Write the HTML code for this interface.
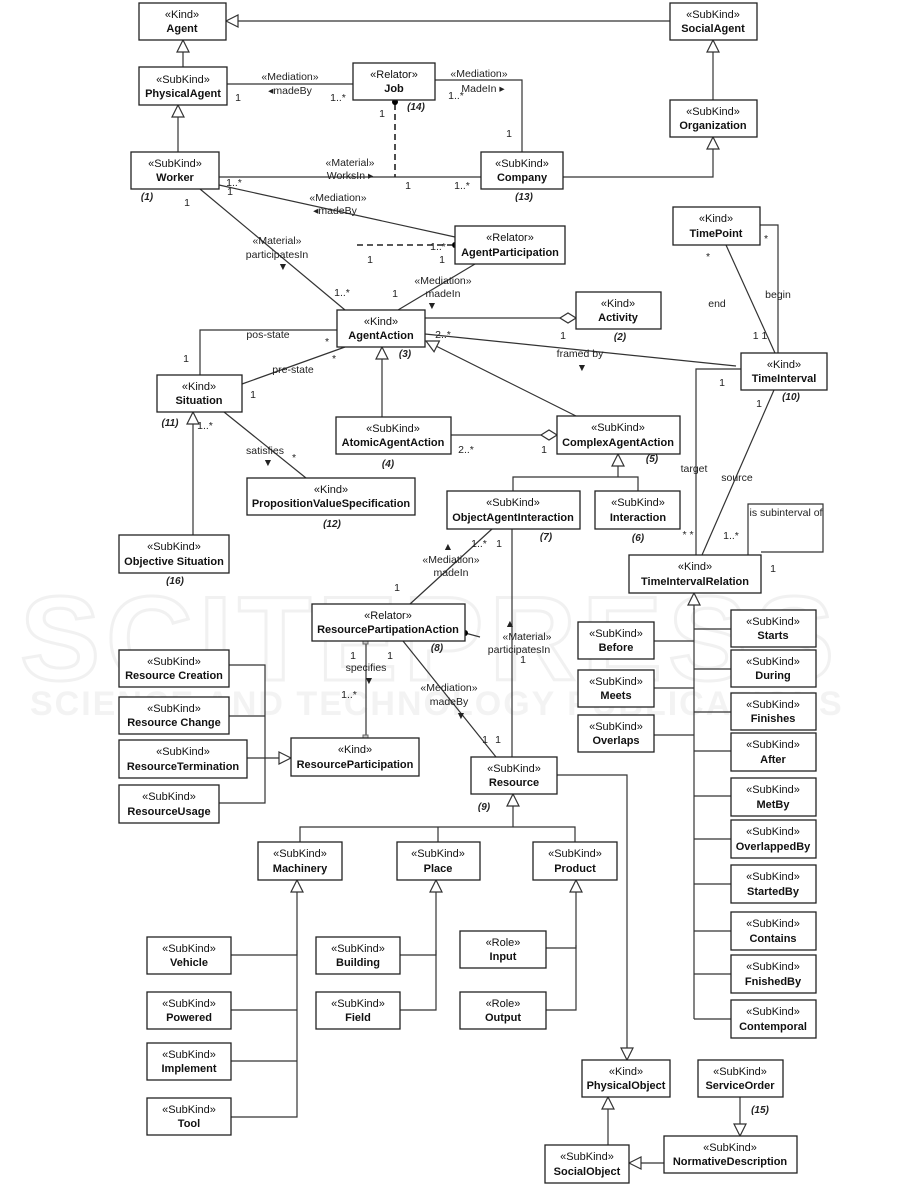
<!DOCTYPE html>
<html><head><meta charset="utf-8"><style>
html,body{margin:0;padding:0;background:#fff;}
svg{display:block;font-family:"Liberation Sans",Arial,sans-serif;}
.b{fill:#fff;stroke:#222;stroke-width:1.3}
.l{fill:none;stroke:#333;stroke-width:1.2}
.d{fill:none;stroke:#222;stroke-width:1.6;stroke-dasharray:6,4}
.s{font-size:11px;text-anchor:middle;fill:#111}
.n{font-size:11px;font-weight:bold;text-anchor:middle;fill:#111}
.t{font-size:10.5px;fill:#222;text-anchor:middle}
.i{font-size:10px;font-style:italic;font-weight:bold;fill:#222;text-anchor:middle}
.wm{font-size:120px;font-weight:bold;fill:none;stroke:#f1f1f1;stroke-width:3;letter-spacing:6px}
.wm2{font-size:34px;font-weight:bold;fill:#f3f3f3;letter-spacing:2px}
</style></head><body>
<svg width="901" height="1203" viewBox="0 0 901 1203" xmlns="http://www.w3.org/2000/svg">
<defs>
<marker id="g" viewBox="0 0 14 14" refX="13" refY="7" markerWidth="14" markerHeight="14" markerUnits="userSpaceOnUse" orient="auto">
<path d="M1,1 L13,7 L1,13 Z" fill="#fff" stroke="#333" stroke-width="1.2"/></marker>
<marker id="dm" viewBox="0 0 18 12" refX="17" refY="6" markerWidth="18" markerHeight="12" markerUnits="userSpaceOnUse" orient="auto">
<path d="M1,6 L9,1 L17,6 L9,11 Z" fill="#fff" stroke="#333" stroke-width="1.2"/></marker>
</defs>
<!-- watermark -->
<text x="20" y="680" class="wm">SCITEPRESS</text>
<text x="30" y="715" class="wm2">SCIENCE AND TECHNOLOGY PUBLICATIONS</text>

<!-- connectors -->
<g class="l">
<line x1="670" y1="21" x2="226" y2="21" marker-end="url(#g)"/>
<line x1="183" y1="67" x2="183" y2="40" marker-end="url(#g)"/>
<line x1="178" y1="152" x2="178" y2="105" marker-end="url(#g)"/>
<line x1="713" y1="100" x2="713" y2="40" marker-end="url(#g)"/>
<polyline points="563,177 713,177 713,137" marker-end="url(#g)"/>
<line x1="227" y1="84" x2="353" y2="84"/>
<polyline points="435,80 522,80 522,152"/>
<line x1="219" y1="177" x2="481" y2="177"/>
<line x1="219" y1="185" x2="455" y2="237"/>
<line x1="200" y1="189" x2="345" y2="310"/>
<line x1="475" y1="264" x2="398" y2="310"/>
<line x1="425" y1="318" x2="576" y2="318" marker-end="url(#dm)"/>
<line x1="425" y1="334" x2="736" y2="366"/>
<polyline points="200,375 200,330 337,330"/>
<line x1="242" y1="384" x2="345" y2="347"/>
<line x1="382" y1="417" x2="382" y2="347" marker-end="url(#g)"/>
<line x1="576" y1="416" x2="426" y2="341" marker-end="url(#g)"/>
<line x1="451" y1="435" x2="557" y2="435" marker-end="url(#dm)"/>
<polyline points="513,491 513,477 638,477 638,491"/>
<line x1="618" y1="477" x2="618" y2="454" marker-end="url(#g)"/>
<line x1="224" y1="412" x2="306" y2="478"/>
<line x1="193" y1="535" x2="193" y2="412" marker-end="url(#g)"/>
<line x1="492" y1="529" x2="410" y2="604"/>
<line x1="512" y1="529" x2="512" y2="757"/>
<line x1="465" y1="633" x2="480" y2="637"/>
<line x1="366" y1="641" x2="366" y2="738"/>
<line x1="403" y1="641" x2="496" y2="757"/>
<polyline points="229,665 265,665 265,803 219,803"/>
<line x1="229" y1="716" x2="265" y2="716"/>
<line x1="247" y1="758" x2="291" y2="758" marker-end="url(#g)"/>
<polyline points="300,842 300,827 575,827 575,842"/>
<line x1="438" y1="827" x2="438" y2="842"/>
<line x1="513" y1="827" x2="513" y2="794" marker-end="url(#g)"/>
<polyline points="557,775 627,775 627,1060" marker-end="url(#g)"/>
<polyline points="231,955 297,955 297,880" marker-end="url(#g)"/>
<line x1="231" y1="1010" x2="297" y2="1010"/>
<line x1="231" y1="1061" x2="297" y2="1061"/>
<polyline points="231,1117 297,1117 297,950"/>
<polyline points="400,955 436,955 436,880" marker-end="url(#g)"/>
<polyline points="400,1010 436,1010 436,950"/>
<polyline points="546,948 576,948 576,880" marker-end="url(#g)"/>
<polyline points="546,1010 576,1010 576,945"/>
<line x1="608" y1="1145" x2="608" y2="1097" marker-end="url(#g)"/>
<line x1="664" y1="1163" x2="629" y2="1163" marker-end="url(#g)"/>
<line x1="740" y1="1097" x2="740" y2="1136" marker-end="url(#g)"/>
<polyline points="757,225 778,225 778,353"/>
<line x1="726" y1="245" x2="775" y2="353"/>
<polyline points="741,369 696,369 696,555"/>
<line x1="774" y1="390" x2="702" y2="555"/>
<polyline points="748,555 748,504 823,504 823,552 761,552"/>
<line x1="694" y1="610" x2="694" y2="593" marker-end="url(#g)"/>
<line x1="694" y1="608" x2="694" y2="1019"/>
<line x1="654" y1="641" x2="694" y2="641"/>
<line x1="654" y1="688" x2="694" y2="688"/>
<line x1="654" y1="735" x2="694" y2="735"/>
<line x1="694" y1="629" x2="731" y2="629"/>
<line x1="694" y1="669" x2="731" y2="669"/>
<line x1="694" y1="712" x2="731" y2="712"/>
<line x1="694" y1="751" x2="731" y2="751"/>
<line x1="694" y1="796" x2="731" y2="796"/>
<line x1="694" y1="839" x2="731" y2="839"/>
<line x1="694" y1="884" x2="731" y2="884"/>
<line x1="694" y1="931" x2="731" y2="931"/>
<line x1="694" y1="974" x2="731" y2="974"/>
<line x1="694" y1="1019" x2="731" y2="1019"/>
</g>
<line class="d" x1="395" y1="104" x2="395" y2="177"/>
<line class="d" x1="357" y1="245" x2="452" y2="245"/>
<circle cx="395" cy="102" r="3" fill="#000"/>
<circle cx="455" cy="245" r="3" fill="#000"/>
<circle cx="465" cy="633" r="3" fill="#000"/>
<rect x="363" y="639" width="5" height="5" fill="#ccc" stroke="#666"/>
<rect x="363" y="735" width="5" height="5" fill="#ccc" stroke="#666"/>

<!-- boxes -->
<g>
<rect class="b" x="139" y="3" width="87" height="37"/><text class="s" x="182" y="18">«Kind»</text><text class="n" x="182" y="32">Agent</text>
<rect class="b" x="670" y="3" width="87" height="37"/><text class="s" x="713" y="18">«SubKind»</text><text class="n" x="713" y="32">SocialAgent</text>
<rect class="b" x="139" y="67" width="88" height="38"/><text class="s" x="183" y="83">«SubKind»</text><text class="n" x="183" y="97">PhysicalAgent</text>
<rect class="b" x="353" y="63" width="82" height="37"/><text class="s" x="394" y="78">«Relator»</text><text class="n" x="394" y="92">Job</text>
<rect class="b" x="670" y="100" width="87" height="37"/><text class="s" x="713" y="115">«SubKind»</text><text class="n" x="713" y="129">Organization</text>
<rect class="b" x="131" y="152" width="88" height="37"/><text class="s" x="175" y="167">«SubKind»</text><text class="n" x="175" y="181">Worker</text>
<rect class="b" x="481" y="152" width="82" height="37"/><text class="s" x="522" y="167">«SubKind»</text><text class="n" x="522" y="181">Company</text>
<rect class="b" x="455" y="226" width="110" height="38"/><text class="s" x="510" y="241">«Relator»</text><text class="n" x="510" y="256">AgentParticipation</text>
<rect class="b" x="673" y="207" width="87" height="38"/><text class="s" x="716" y="222">«Kind»</text><text class="n" x="716" y="237">TimePoint</text>
<rect class="b" x="576" y="292" width="85" height="37"/><text class="s" x="618" y="307">«Kind»</text><text class="n" x="618" y="321">Activity</text>
<rect class="b" x="337" y="310" width="88" height="37"/><text class="s" x="381" y="325">«Kind»</text><text class="n" x="381" y="339">AgentAction</text>
<rect class="b" x="157" y="375" width="85" height="37"/><text class="s" x="199" y="390">«Kind»</text><text class="n" x="199" y="404">Situation</text>
<rect class="b" x="741" y="353" width="86" height="37"/><text class="s" x="784" y="368">«Kind»</text><text class="n" x="784" y="382">TimeInterval</text>
<rect class="b" x="336" y="417" width="115" height="37"/><text class="s" x="393" y="432">«SubKind»</text><text class="n" x="393" y="446">AtomicAgentAction</text>
<rect class="b" x="557" y="416" width="123" height="38"/><text class="s" x="618" y="431">«SubKind»</text><text class="n" x="618" y="446">ComplexAgentAction</text>
<rect class="b" x="247" y="478" width="168" height="37"/><text class="s" x="331" y="493">«Kind»</text><text class="n" x="331" y="507">PropositionValueSpecification</text>
<rect class="b" x="447" y="491" width="133" height="38"/><text class="s" x="513" y="506">«SubKind»</text><text class="n" x="513" y="521">ObjectAgentInteraction</text>
<rect class="b" x="595" y="491" width="85" height="38"/><text class="s" x="638" y="506">«SubKind»</text><text class="n" x="638" y="521">Interaction</text>
<rect class="b" x="119" y="535" width="110" height="38"/><text class="s" x="174" y="550">«SubKind»</text><text class="n" x="174" y="565">Objective Situation</text>
<rect class="b" x="629" y="555" width="132" height="38"/><text class="s" x="695" y="570">«Kind»</text><text class="n" x="695" y="585">TimeIntervalRelation</text>
<rect class="b" x="312" y="604" width="153" height="37"/><text class="s" x="388" y="619">«Relator»</text><text class="n" x="388" y="633">ResourcePartipationAction</text>
<rect class="b" x="119" y="650" width="110" height="37"/><text class="s" x="174" y="665">«SubKind»</text><text class="n" x="174" y="679">Resource Creation</text>
<rect class="b" x="119" y="697" width="110" height="37"/><text class="s" x="174" y="712">«SubKind»</text><text class="n" x="174" y="726">Resource Change</text>
<rect class="b" x="119" y="740" width="128" height="38"/><text class="s" x="183" y="755">«SubKind»</text><text class="n" x="183" y="770">ResourceTermination</text>
<rect class="b" x="119" y="785" width="100" height="38"/><text class="s" x="169" y="800">«SubKind»</text><text class="n" x="169" y="815">ResourceUsage</text>
<rect class="b" x="291" y="738" width="128" height="38"/><text class="s" x="355" y="753">«Kind»</text><text class="n" x="355" y="768">ResourceParticipation</text>
<rect class="b" x="471" y="757" width="86" height="37"/><text class="s" x="514" y="772">«SubKind»</text><text class="n" x="514" y="786">Resource</text>
<rect class="b" x="578" y="622" width="76" height="37"/><text class="s" x="616" y="637">«SubKind»</text><text class="n" x="616" y="651">Before</text>
<rect class="b" x="578" y="670" width="76" height="37"/><text class="s" x="616" y="685">«SubKind»</text><text class="n" x="616" y="699">Meets</text>
<rect class="b" x="578" y="715" width="76" height="37"/><text class="s" x="616" y="730">«SubKind»</text><text class="n" x="616" y="744">Overlaps</text>
<rect class="b" x="731" y="610" width="85" height="37"/><text class="s" x="773" y="625">«SubKind»</text><text class="n" x="773" y="639">Starts</text>
<rect class="b" x="731" y="650" width="85" height="37"/><text class="s" x="773" y="665">«SubKind»</text><text class="n" x="773" y="679">During</text>
<rect class="b" x="731" y="693" width="85" height="37"/><text class="s" x="773" y="708">«SubKind»</text><text class="n" x="773" y="722">Finishes</text>
<rect class="b" x="731" y="733" width="85" height="38"/><text class="s" x="773" y="748">«SubKind»</text><text class="n" x="773" y="763">After</text>
<rect class="b" x="731" y="778" width="85" height="38"/><text class="s" x="773" y="793">«SubKind»</text><text class="n" x="773" y="808">MetBy</text>
<rect class="b" x="731" y="820" width="85" height="38"/><text class="s" x="773" y="835">«SubKind»</text><text class="n" x="773" y="850">OverlappedBy</text>
<rect class="b" x="731" y="865" width="85" height="38"/><text class="s" x="773" y="880">«SubKind»</text><text class="n" x="773" y="895">StartedBy</text>
<rect class="b" x="731" y="912" width="85" height="38"/><text class="s" x="773" y="927">«SubKind»</text><text class="n" x="773" y="942">Contains</text>
<rect class="b" x="731" y="955" width="85" height="38"/><text class="s" x="773" y="970">«SubKind»</text><text class="n" x="773" y="985">FnishedBy</text>
<rect class="b" x="731" y="1000" width="85" height="38"/><text class="s" x="773" y="1015">«SubKind»</text><text class="n" x="773" y="1030">Contemporal</text>
<rect class="b" x="258" y="842" width="84" height="38"/><text class="s" x="300" y="857">«SubKind»</text><text class="n" x="300" y="872">Machinery</text>
<rect class="b" x="397" y="842" width="83" height="38"/><text class="s" x="438" y="857">«SubKind»</text><text class="n" x="438" y="872">Place</text>
<rect class="b" x="533" y="842" width="84" height="38"/><text class="s" x="575" y="857">«SubKind»</text><text class="n" x="575" y="872">Product</text>
<rect class="b" x="147" y="937" width="84" height="37"/><text class="s" x="189" y="952">«SubKind»</text><text class="n" x="189" y="966">Vehicle</text>
<rect class="b" x="147" y="992" width="84" height="37"/><text class="s" x="189" y="1007">«SubKind»</text><text class="n" x="189" y="1021">Powered</text>
<rect class="b" x="147" y="1043" width="84" height="37"/><text class="s" x="189" y="1058">«SubKind»</text><text class="n" x="189" y="1072">Implement</text>
<rect class="b" x="147" y="1098" width="84" height="37"/><text class="s" x="189" y="1113">«SubKind»</text><text class="n" x="189" y="1127">Tool</text>
<rect class="b" x="316" y="937" width="84" height="37"/><text class="s" x="358" y="952">«SubKind»</text><text class="n" x="358" y="966">Building</text>
<rect class="b" x="316" y="992" width="84" height="37"/><text class="s" x="358" y="1007">«SubKind»</text><text class="n" x="358" y="1021">Field</text>
<rect class="b" x="460" y="931" width="86" height="37"/><text class="s" x="503" y="946">«Role»</text><text class="n" x="503" y="960">Input</text>
<rect class="b" x="460" y="992" width="86" height="37"/><text class="s" x="503" y="1007">«Role»</text><text class="n" x="503" y="1021">Output</text>
<rect class="b" x="582" y="1060" width="88" height="37"/><text class="s" x="626" y="1075">«Kind»</text><text class="n" x="626" y="1089">PhysicalObject</text>
<rect class="b" x="698" y="1060" width="85" height="37"/><text class="s" x="740" y="1075">«SubKind»</text><text class="n" x="740" y="1089">ServiceOrder</text>
<rect class="b" x="664" y="1136" width="133" height="37"/><text class="s" x="730" y="1151">«SubKind»</text><text class="n" x="730" y="1165">NormativeDescription</text>
<rect class="b" x="545" y="1145" width="84" height="38"/><text class="s" x="587" y="1160">«SubKind»</text><text class="n" x="587" y="1175">SocialObject</text>
</g>

<!-- labels -->
<g class="t">
<text x="290" y="80">«Mediation»</text><text x="290" y="94">◂madeBy</text>
<text x="238" y="101">1</text><text x="338" y="101">1..*</text>
<text x="479" y="77">«Mediation»</text><text x="483" y="92">MadeIn ▸</text>
<text x="456" y="99">1..*</text><text x="509" y="137">1</text>
<text x="382" y="117">1</text>
<text x="350" y="166">«Material»</text><text x="350" y="179">WorksIn ▸</text>
<text x="408" y="189">1</text><text x="462" y="189">1..*</text>
<text x="234" y="186">1..*</text><text x="230" y="195">1</text>
<text x="338" y="201">«Mediation»</text><text x="335" y="214">◂madeBy</text>
<text x="187" y="206">1</text>
<text x="277" y="244">«Material»</text><text x="277" y="258">participatesIn</text><text x="283" y="270">▼</text>
<text x="438" y="250">1..*</text><text x="370" y="263">1</text><text x="442" y="263">1</text>
<text x="342" y="296">1..*</text><text x="395" y="297">1</text>
<text x="443" y="284">«Mediation»</text><text x="443" y="297">madeIn</text><text x="432" y="309">▼</text>
<text x="563" y="339">1</text>
<text x="443" y="338">2..*</text>
<text x="580" y="357">framed by</text><text x="582" y="371">▼</text>
<text x="268" y="338">pos-state</text><text x="327" y="345">*</text><text x="186" y="362">1</text>
<text x="293" y="373">pre-state</text><text x="334" y="362">*</text><text x="253" y="398">1</text>
<text x="466" y="453">2..*</text><text x="544" y="453">1</text>
<text x="205" y="429">1..*</text>
<text x="265" y="454">satisfies</text><text x="268" y="466">▼</text><text x="294" y="461">*</text>
<text x="448" y="550">▲</text>
<text x="451" y="563">«Mediation»</text><text x="451" y="576">madeIn</text>
<text x="479" y="547">1..*</text><text x="499" y="547">1</text><text x="397" y="591">1</text>
<text x="510" y="627">▲</text>
<text x="527" y="640">«Material»</text><text x="519" y="653">participatesIn</text><text x="523" y="663">1</text>
<text x="353" y="659">1</text><text x="390" y="659">1</text>
<text x="366" y="671">specifies</text><text x="369" y="684">▼</text><text x="349" y="698">1..*</text>
<text x="449" y="691">«Mediation»</text><text x="449" y="705">madeBy</text><text x="461" y="719">▼</text>
<text x="485" y="743">1</text><text x="498" y="743">1</text>
<text x="766" y="242">*</text><text x="778" y="298">begin</text>
<text x="708" y="260">*</text><text x="717" y="307">end</text><text x="760" y="339">1 1</text>
<text x="722" y="386">1</text><text x="694" y="472">target</text><text x="688" y="538">* *</text>
<text x="759" y="407">1</text><text x="737" y="481">source</text><text x="731" y="539">1..*</text>
<text x="786" y="516">is subinterval of</text>
<text x="773" y="572">1</text>
</g>
<g class="i">
<text x="147" y="200">(1)</text><text x="416" y="110">(14)</text><text x="524" y="200">(13)</text>
<text x="620" y="340">(2)</text><text x="405" y="357">(3)</text><text x="791" y="400">(10)</text>
<text x="170" y="426">(11)</text><text x="388" y="467">(4)</text><text x="652" y="462">(5)</text>
<text x="332" y="527">(12)</text><text x="546" y="540">(7)</text><text x="638" y="541">(6)</text>
<text x="175" y="584">(16)</text><text x="437" y="651">(8)</text><text x="484" y="810">(9)</text>
<text x="760" y="1113">(15)</text>
</g>
</svg>
</body></html>
